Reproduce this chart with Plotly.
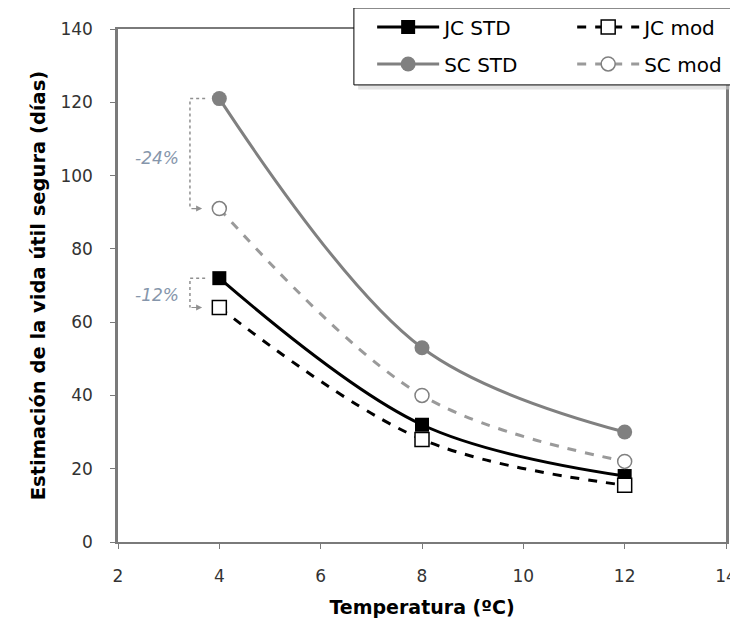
import plotly.graph_objects as go

# Temperatures (ºC) and estimated safe shelf life (days)
temperatura = [4, 8, 12]
jc_std = [72, 32, 18]
jc_mod = [64, 28, 15.5]
sc_std = [121, 53, 30]
sc_mod = [91, 40, 22]

reduccion_sc = "-24%"
reduccion_jc = "-12%"

font = "DejaVu Sans"

fig = go.Figure()

# left column of the legend: STD series, right column: mod series
fig.add_trace(go.Scatter(
    x=temperatura, y=jc_std, name="JC STD", mode="lines+markers",
    line=dict(color="black", width=3, shape="spline"),
    marker=dict(symbol="square", size=14, color="black"),
    legend="legend", legendgroup="a",
))
fig.add_trace(go.Scatter(
    x=temperatura, y=sc_std, name="SC STD", mode="lines+markers",
    line=dict(color="#808080", width=3, shape="spline"),
    marker=dict(symbol="circle", size=15, color="#808080"),
    legend="legend", legendgroup="b",
))
fig.add_trace(go.Scatter(
    x=temperatura, y=jc_mod, name="JC mod", mode="lines+markers",
    line=dict(color="black", width=3, shape="spline", dash="dash"),
    marker=dict(symbol="square", size=14, color="white",
                line=dict(color="black", width=1.5)),
    legend="legend2", legendgroup="c",
))
fig.add_trace(go.Scatter(
    x=temperatura, y=sc_mod, name="SC mod", mode="lines+markers",
    line=dict(color="#9a9a9a", width=3, shape="spline", dash="dash"),
    marker=dict(symbol="circle", size=14, color="white",
                line=dict(color="#808080", width=1.5)),
    legend="legend2", legendgroup="d",
))

# dotted brackets showing the reduction between STD and mod at 4 ºC
x_der, x_izq = 3.72, 3.42
for y_top, y_bot, texto, y_txt in [
    (sc_std[0], sc_mod[0], reduccion_sc, 104.8),
    (jc_std[0], jc_mod[0], reduccion_jc, 67.4),
]:
    fig.add_shape(
        type="path", xref="x", yref="y",
        path=f"M {x_der},{y_top} L {x_izq},{y_top} L {x_izq},{y_bot}",
        line=dict(color="#909090", width=1.5, dash="dot"),
    )
    fig.add_annotation(
        x=3.66, y=y_bot, ax=x_izq, ay=y_bot, axref="x", ayref="y",
        text="", showarrow=True, arrowhead=2, arrowsize=1, arrowwidth=1.2,
        arrowcolor="#909090",
    )
    fig.add_annotation(
        x=2.77, y=y_txt, text=texto, showarrow=False,
        font=dict(family=font, size=17, color="#8696ab", style="italic"),
    )

# legend box with a soft shadow
fig.add_shape(type="rect", xref="paper", yref="paper",
              x0=0.395, x1=1.08, y0=0.882, y1=1.033,
              fillcolor="#d0d0d0", line=dict(width=0), layer="above", opacity=0.6)
fig.add_shape(type="rect", xref="paper", yref="paper",
              x0=0.388, x1=1.07, y0=0.891, y1=1.041,
              fillcolor="white", line=dict(color="black", width=1), layer="above")

legend_style = dict(
    bgcolor="rgba(0,0,0,0)", borderwidth=0, tracegroupgap=8, itemwidth=62,
    font=dict(family=font, size=20, color="black"),
    yanchor="top", xanchor="left", y=1.042,
)

# the page body adds an 8 px offset, so margins are shifted to compensate
fig.update_layout(
    width=738, height=623,
    margin=dict(l=110, r=20, t=21, b=89, autoexpand=False),
    plot_bgcolor="white", paper_bgcolor="white",
    font=dict(family=font, size=17, color="#333333"),
    legend=dict(x=0.418, **legend_style),
    legend2=dict(x=0.747, **legend_style),
    xaxis=dict(
        range=[2, 14], dtick=2, showgrid=False, zeroline=False, automargin=False,
        showline=True, linecolor="#7a7a7a", linewidth=2, mirror=True,
        ticks="outside", ticklen=5, tickcolor="#7a7a7a", ticklabelstandoff=13,
        title=dict(text="<b>Temperatura (ºC)</b>", standoff=15,
                   font=dict(family=font, size=19, color="black")),
    ),
    yaxis=dict(
        range=[0, 140], dtick=20, showgrid=False, zeroline=False, automargin=False,
        showline=True, linecolor="#7a7a7a", linewidth=2.5, mirror=True,
        ticks="outside", ticklen=5, tickcolor="#7a7a7a", ticklabelstandoff=14,
        title=dict(text="<b>Estimación de la vida útil segura (días)</b>", standoff=10,
                   font=dict(family=font, size=19.5, color="black")),
    ),
)

fig.write_html("out.html")
